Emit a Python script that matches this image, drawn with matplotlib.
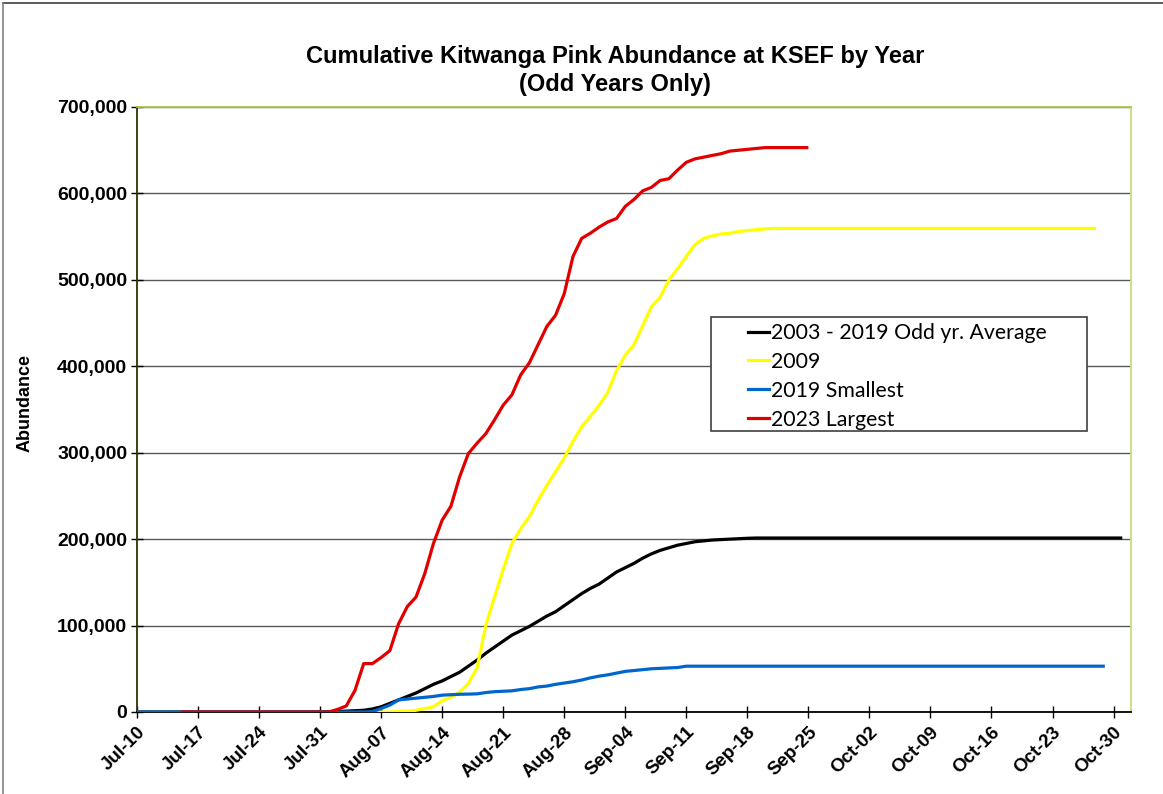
import matplotlib.pyplot as plt
import matplotlib.dates as mdates
import pandas as pd
from matplotlib.patches import Rectangle
from matplotlib.lines import Line2D
from matplotlib.ticker import FuncFormatter

# Kumulative Werte, ein Wert pro Tag ab dem jeweiligen Startdatum
avg_start = "2023-07-10"
avg_values = (
    [0] * 21
    + [200, 400, 700, 1000, 1500, 2000, 3500, 6000, 10000, 14000,
       18000, 22000, 27000, 32000, 36000, 41000, 46000, 53000, 60000, 68000,
       75000, 82000, 89000, 94000, 99000, 105000, 111000, 116000, 123000, 130000,
       137000, 143000, 148000, 155000, 162000, 167000, 172000, 178000, 183000, 187000,
       190000, 193000, 195000, 197000, 198000, 199000, 199500, 200000, 200500, 201000]
    + [201300] * 43
)

y2009_start = "2023-08-06"
y2009_values = (
    [0, 0, 0, 500, 1000, 2000, 4000, 6000, 13000, 17000,
     23000, 33000, 51000, 100000, 133000, 165000, 195000, 212000, 226000, 245000,
     262000, 278000, 294000, 313000, 330000, 342000, 355000, 370000, 395000, 413000,
     425000, 447000, 469000, 480000, 500000, 513000, 527000, 541000, 548000, 551000,
     553000, 554000, 556000, 557000, 558000, 559000]
    + [559500] * 38
)

smallest_start = "2023-07-10"
smallest_values = (
    [0] * 27
    + [500, 4000, 8000, 14000, 15000, 16000, 17000, 18000, 19500, 20000,
       20500, 20700, 21000, 22500, 23500, 24000, 24500, 26000, 27000, 29000,
       30000, 32000, 33500, 35000, 37000, 39500, 41500, 43000, 45000, 47000,
       48000, 49000, 50000, 50500, 51000, 51500, 53000]
    + [53000] * 48
)

largest_start = "2023-07-15"
largest_values = (
    [0] * 18
    + [3000, 7000, 25000, 56000, 56000, 63000, 71000, 102000, 122000, 133000,
       160000, 195000, 222000, 238000, 272000, 299000, 311000, 322000, 338000, 355000,
       367000, 390000, 404000, 425000, 446000, 459000, 484000, 527000, 548000, 554000,
       561000, 567000, 571000, 585000, 593000, 603000, 607000, 615000, 617000, 627000,
       636000, 640000, 642000, 644000, 646000, 649000, 650000, 651000, 652000, 653000,
       653000, 653000, 653000, 653000, 653000]
)

series = [
    ("2003 - 2019 Odd yr. Average", avg_start, avg_values, "#000000"),
    ("2009", y2009_start, y2009_values, "#ffff00"),
    ("2019 Smallest", smallest_start, smallest_values, "#0066cc"),
    ("2023 Largest", largest_start, largest_values, "#e00000"),
]

fig = plt.figure(figsize=(11.63, 7.94), dpi=100)
ax = fig.add_axes([137 / 1163, 82 / 794, 994 / 1163, 605 / 794])

# Zeichenreihenfolge wie im Original: Durchschnitt, 2009, 2019, 2023
for label, start, values, color in series:
    dates = pd.date_range(start, periods=len(values), freq="D")
    ax.plot(dates, values, color=color, linewidth=2.3, solid_capstyle="butt", zorder=3)

ax.set_xlim(pd.Timestamp("2023-07-10"), pd.Timestamp("2023-11-01"))
ax.set_ylim(0, 700000)

ticks = pd.date_range("2023-07-10", "2023-10-30", freq="7D")
ax.set_xticks(ticks)
ax.xaxis.set_major_formatter(mdates.DateFormatter("%b-%d"))
ax.set_yticks(range(0, 700001, 100000))
ax.yaxis.set_major_formatter(FuncFormatter(lambda v, _: f"{int(v):,}"))

for lbl in ax.get_xticklabels():
    lbl.set_rotation(45)
    lbl.set_ha("right")
    lbl.set_rotation_mode("anchor")
    lbl.set_fontweight("bold")
    lbl.set_fontsize(13.5)
    lbl.set_family("Liberation Sans")
for lbl in ax.get_yticklabels():
    lbl.set_fontweight("bold")
    lbl.set_fontsize(14)
    lbl.set_family("Liberation Sans")

ax.tick_params(axis="x", direction="inout", length=9, width=1, pad=4)
ax.tick_params(axis="y", direction="inout", length=8, width=1, pad=3)

ax.yaxis.grid(True, color="#5a5a5a", linewidth=1)
ax.set_axisbelow(True)

ax.spines["left"].set_color("#2f3300")
ax.spines["bottom"].set_color("#000000")
ax.spines["top"].set_color("#a8c94a")
ax.spines["right"].set_color("#c6e07a")
for s in ax.spines.values():
    s.set_linewidth(1.3)

ax.set_ylabel("Abundance", fontsize=13, fontweight="bold", family="Liberation Sans")
ax.yaxis.set_label_coords(-0.104, 0.51)

fig.text(615 / 1163, 1 - 57 / 794, "Cumulative Kitwanga Pink Abundance at KSEF by Year",
         ha="center", va="center", fontsize=17, fontweight="bold", family="Liberation Sans")
fig.text(615 / 1163, 1 - 85 / 794, "(Odd Years Only)",
         ha="center", va="center", fontsize=17, fontweight="bold", family="Liberation Sans")

# Legendenrahmen separat, Eintraege linksbuendig darin
box = Rectangle((0.5775, 0.464), 0.3786, 0.189, transform=ax.transAxes,
                facecolor="white", edgecolor="#404040", linewidth=1.2, zorder=4)
ax.add_patch(box)
handles = [Line2D([], [], color=c, linewidth=2.3) for _, _, _, c in series]
labels = [s[0] for s in series]
leg = ax.legend(handles, labels, loc="upper left", bbox_to_anchor=((748 - 137) / 994, (712 - 323) / 605),
                frameon=False, handlelength=1.0, handletextpad=0.1, borderpad=0, borderaxespad=0,
                labelspacing=0.42, prop={"family": "Lato", "size": 15.3})
leg.set_zorder(5)

# Rahmen um die ganze Grafik (nur oben und links sichtbar)
fig.add_artist(Line2D([3 / 1163, 1.0], [1 - 3 / 794, 1 - 3 / 794], color="#404040", linewidth=1.2))
fig.add_artist(Line2D([3 / 1163, 3 / 1163], [0, 1 - 3 / 794], color="#808080", linewidth=1.2))

fig.savefig("out.png", dpi=100)
